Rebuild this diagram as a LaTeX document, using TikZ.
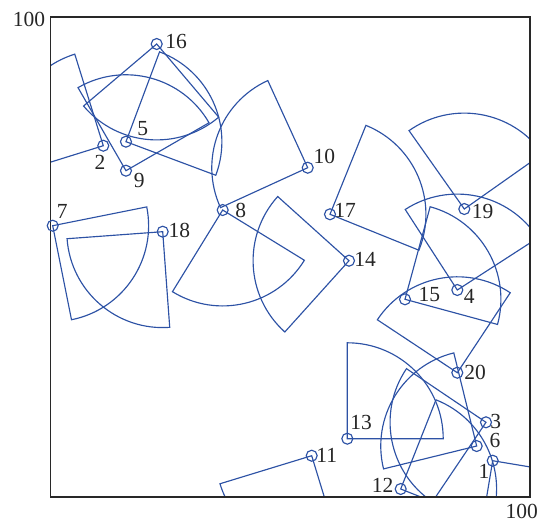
\documentclass[tikz,border=0pt]{standalone}
\usepackage{fontspec}
\setmainfont{Liberation Serif}
\usetikzlibrary{calc}
\definecolor{secblue}{RGB}{45,82,165}
\definecolor{framegray}{RGB}{40,40,40}
\tikzset{
  sec/.style={draw=secblue, line width=1.15pt, line join=miter},
  dot/.style={circle, draw=secblue, line width=1.15pt, minimum size=11pt, inner sep=0pt},
  lbl/.style={inner sep=0pt, text=black!85, font=\fontsize{21.5}{21.5}\selectfont},
  framebox/.style={draw=framegray, line width=1.6pt},
}
\begin{document}
\begin{tikzpicture}[x=4.795pt,y=4.795pt]
\useasboundingbox (-10.57,-5.28) rectangle (102.67,103.59);
% node positions
\coordinate (p1) at (92.18,7.51);
\coordinate (p2) at (10.97,73.20);
\coordinate (p3) at (90.78,15.52);
\coordinate (p4) at (84.80,43.11);
\coordinate (p5) at (15.70,74.04);
\coordinate (p6) at (88.84,10.57);
\coordinate (p7) at (0.42,56.52);
\coordinate (p8) at (35.87,59.79);
\coordinate (p9) at (15.70,67.99);
\coordinate (p10) at (53.60,68.61);
\coordinate (p11) at (54.43,8.55);
\coordinate (p12) at (72.99,1.61);
\coordinate (p13) at (61.86,12.10);
\coordinate (p14) at (62.21,49.22);
\coordinate (p15) at (73.89,41.17);
\coordinate (p16) at (22.11,94.41);
\coordinate (p17) at (58.25,58.90);
\coordinate (p18) at (23.36,55.27);
\coordinate (p19) at (86.26,60.00);
\coordinate (p20) at (84.80,25.86);
% sectors, clipped to the field
\begin{scope}
  \clip (0,0) rectangle (100,100);
  \foreach \i/\s in {1/260.5, 2/107.3, 3/146, 4/32.9, 5/-20.5, 6/103.8, 7/-78.7,
      8/238.4, 9/30, 10/114.6, 11/197, 12/-21.6, 13/0, 14/138, 15/-15.2,
      16/220.3, 17/-22, 18/184.2, 19/35.2, 20/56.5}
    \draw[sec] (p\i) -- ++(\s:20) arc[start angle=\s, delta angle=90, radius=20] -- cycle;
\end{scope}
% frame
\draw[framebox] (0,0) rectangle (100,100);
\node[lbl] (top) at (-4.53,99.52) {100};
\node[lbl] (right) at (98.23,-3.13) {100};
% markers and labels
\foreach \i/\dx/\dy in {1/-1.81/-2.29, 2/-0.69/-3.55, 3/2.02/0.27, 4/2.50/-1.40,
    5/3.48/2.79, 6/3.82/1.11, 7/2.00/2.92, 8/3.75/0, 9/2.77/-1.94, 10/3.46/2.29,
    11/3.13/0, 12/-3.75/0.83, 13/2.86/3.33, 14/3.34/0.29, 15/5.07/0.90,
    16/4.03/0.48, 17/3.13/0.90, 18/3.46/0.35, 19/3.84/-0.56, 20/3.69/0}
{
  \node[dot] (n\i) at (p\i) {};
  \node[lbl] (l\i) at ($(p\i)+(\dx,\dy)$) {\i};
}
\end{tikzpicture}
\end{document}
